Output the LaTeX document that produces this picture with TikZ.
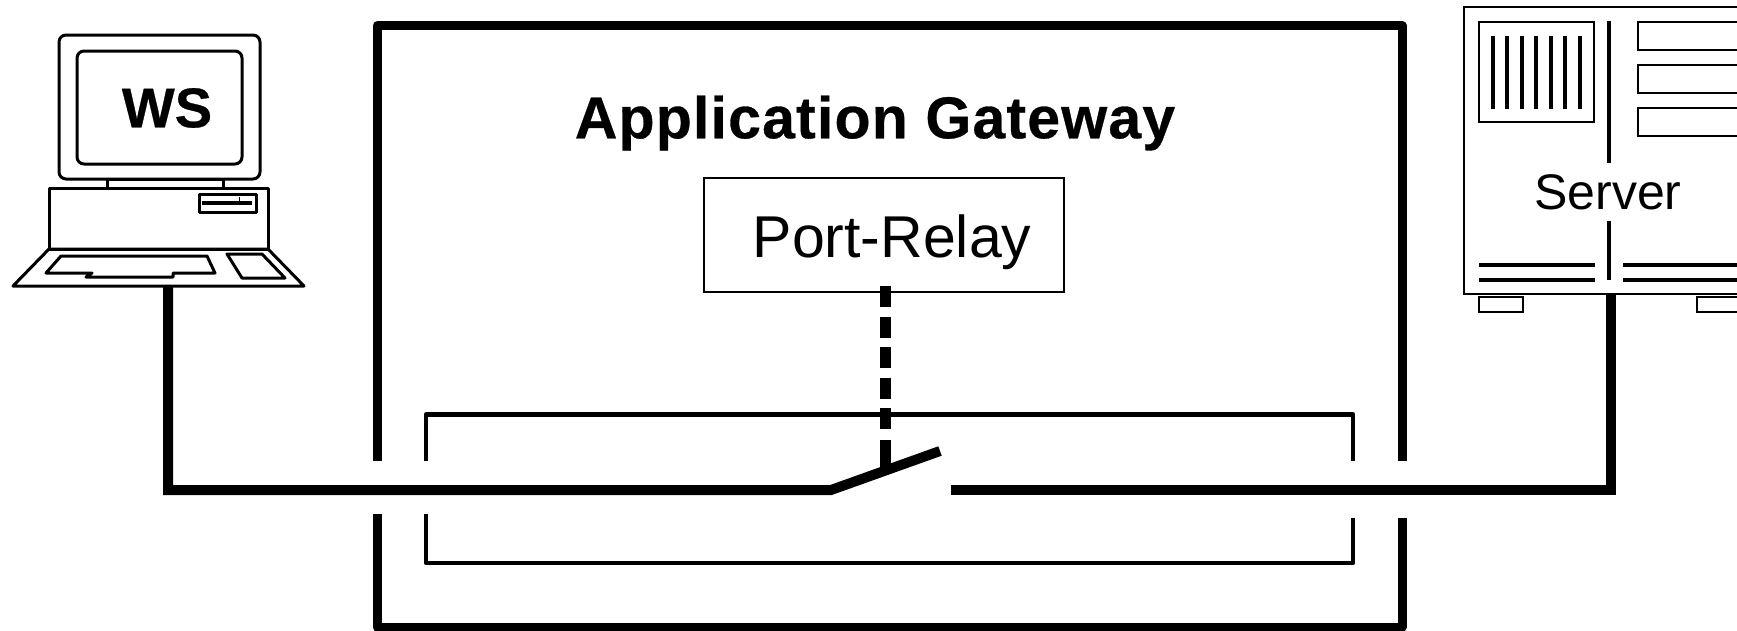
\documentclass[tikz,border=0pt]{standalone}
\usepackage{fontspec}
\setmainfont{Liberation Sans}
\newfontfamily\spacedbold[LetterSpace=2,FakeBold=0.5]{Liberation Sans Bold}
\newfontfamily\heavybold[FakeBold=0.5]{Liberation Sans Bold}
\tikzset{
  heavy/.style={line width=10pt,line cap=butt,line join=miter},
  framebar/.style={line width=9pt,line cap=butt,line join=round},
  medium/.style={line width=4.8pt,line cap=butt,line join=round},
  outline/.style={line width=3pt,line join=round},
  thinbox/.style={draw,line width=2.4pt,inner sep=0pt,anchor=north west},
  vent/.style={line width=4pt},
  label/.style={inner sep=0pt,anchor=center}
}
\begin{document}
\begin{tikzpicture}[x=1pt,y=-1pt]
\useasboundingbox (0,0) rectangle (1737,630);
% Gateway frame
\coordinate (gTL) at (377.5,25.5);
\coordinate (gTR) at (1402,25.5);
\coordinate (gBL) at (377.5,627);
\coordinate (gBR) at (1402,627);
\draw[framebar] (377.5,461) -- (gTL) -- (gTR) -- (1402,461);
\draw[framebar] (377.5,514) -- (gBL) -- (gBR) -- (1402,518);
% Inner band
\draw[medium] (426,461) -- (426,414.5) -- (1353,414.5) -- (1353,461);
\draw[medium] (426,514) -- (426,563) -- (1353,563) -- (1353,518);
% Workstation
\draw[outline,rounded corners=7pt] (59,35) rectangle (260,179);
\draw[outline,rounded corners=7pt] (77,51) rectangle (242,164);
\node[label,font=\fontsize{56}{56}\heavybold] (ws) at (167,108) {WS};
\draw[outline] (107,179) rectangle (223,188);
\draw[outline] (49,188) rectangle (268,249);
\draw[outline] (199,194) rectangle (256,212);
\fill (202,201) rectangle (252,205);
\draw[line width=.8pt] (239,197) -- (239,201);
\draw[outline] (49,249) -- (268,249) -- (304,286) -- (13,286) -- cycle;
\draw[outline] (61,256) -- (207,256) -- (215,273) -- (173,273) -- (173,277) -- (86,277) -- (92,273) -- (46,273) -- cycle;
\draw[outline] (227,254) -- (262,254) -- (285,278) -- (242,278) -- cycle;
% Server
\draw[line width=2.2pt] (1737,7) -- (1464,7) -- (1464,294) -- (1737,294);
\draw[line width=2pt] (1479,22) rectangle (1594,122);
\foreach \vx in {1493,1507,1522,1536,1551,1565,1580}
  \draw[vent] (\vx,36) -- (\vx,109);
\draw[vent] (1609,21) -- (1609,163);
\draw[vent] (1609,221) -- (1609,280);
\foreach \ry in {22,65,108}
  \draw[line width=2.6pt] (1737,\ry) -- (1638,\ry) -- (1638,\ry+28) -- (1737,\ry+28);
\draw[vent] (1479,265) -- (1595,265);
\draw[vent] (1479,280) -- (1595,280);
\draw[vent] (1623,265) -- (1737,265);
\draw[vent] (1623,280) -- (1737,280);
\draw[line width=2pt] (1479,297) rectangle (1523,312);
\draw[line width=2pt] (1737,297) -- (1697,297) -- (1697,312) -- (1737,312);
\node[label,font=\fontsize{50}{50}\selectfont] (server) at (1608,192) {Server};
% Title
\node[label,font=\fontsize{59}{59}\spacedbold] (title) at (875,123) {Application Gateway};
% Port relay
\node[thinbox,minimum width=360pt,minimum height=114pt] (relay) at (703,177) {};
\node[label,font=\fontsize{59}{59}\selectfont] (relaytext) at (892,242) {Port-Relay};
% Connections
\coordinate (wsport) at (168,287);
\coordinate (srvport) at (1611,295);
\coordinate (swbend) at (831,490);
\coordinate (swtip) at (940,451);
\coordinate (swrest) at (951,490);
\coordinate (swarm) at (885,470);
\draw[heavy] (wsport) -- (168,490) -- (swbend) -- (swtip);
\draw[heavy] (swrest) -- (1611,490) -- (srvport);
\draw[line width=11pt,dash pattern=on 21pt off 9.5pt] (885,286) -- (885,430);
\draw[line width=11pt] (885,439.5) -- (swarm);
\end{tikzpicture}
\end{document}
